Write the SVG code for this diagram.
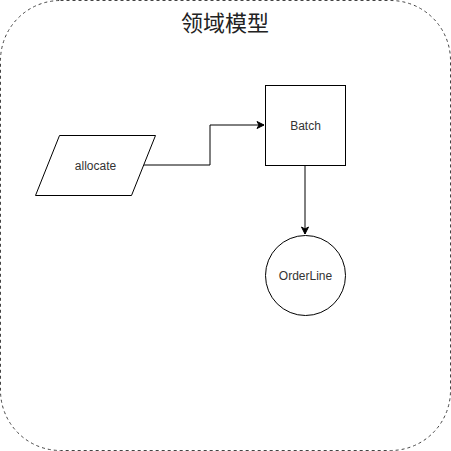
<svg xmlns="http://www.w3.org/2000/svg" width="451" height="451" viewBox="0 0 451 451">
<style>
.shape{fill:#fff;stroke:#000;stroke-width:1}
.lbl{font-family:"Liberation Sans",Arial,sans-serif;font-size:12px;fill:#333;text-anchor:middle;dominant-baseline:central}
.edge{fill:none;stroke:#000;stroke-width:1}
</style>
<defs>
<marker id="arr" markerWidth="10" markerHeight="10" refX="8" refY="5" orient="auto" markerUnits="userSpaceOnUse">
<path d="M1,1.5 L8,5 L1,8.5 L3,5 Z" fill="#000" stroke="#000"/>
</marker>
</defs>
<rect width="451" height="451" fill="#fff"/>
<g id="container">
<rect x="0.5" y="0.5" width="450" height="450" rx="60" ry="60" fill="#fff" stroke="#444" stroke-dasharray="3 3"/>
<text x="225" y="21" font-family="'Noto Sans CJK SC',sans-serif" font-size="22" fill="#222" text-anchor="middle" dominant-baseline="central">领域模型</text>
</g>
<g id="connectors">
<path class="edge" d="M144,165 H210 V125 H264" marker-end="url(#arr)"/>
<path class="edge" d="M305,165 V234" marker-end="url(#arr)"/>
</g>
<g id="allocate">
<polygon class="shape" points="59.5,135.5 155.5,135.5 131.5,195.5 35.5,195.5"/>
<text class="lbl" x="95.5" y="165.5">allocate</text>
</g>
<g id="batch">
<rect class="shape" x="265.5" y="85.5" width="80" height="80"/>
<text class="lbl" x="305.5" y="125.5">Batch</text>
</g>
<g id="orderline">
<circle class="shape" cx="305.5" cy="275.5" r="40"/>
<text class="lbl" x="305.5" y="275.5">OrderLine</text>
</g>
</svg>
